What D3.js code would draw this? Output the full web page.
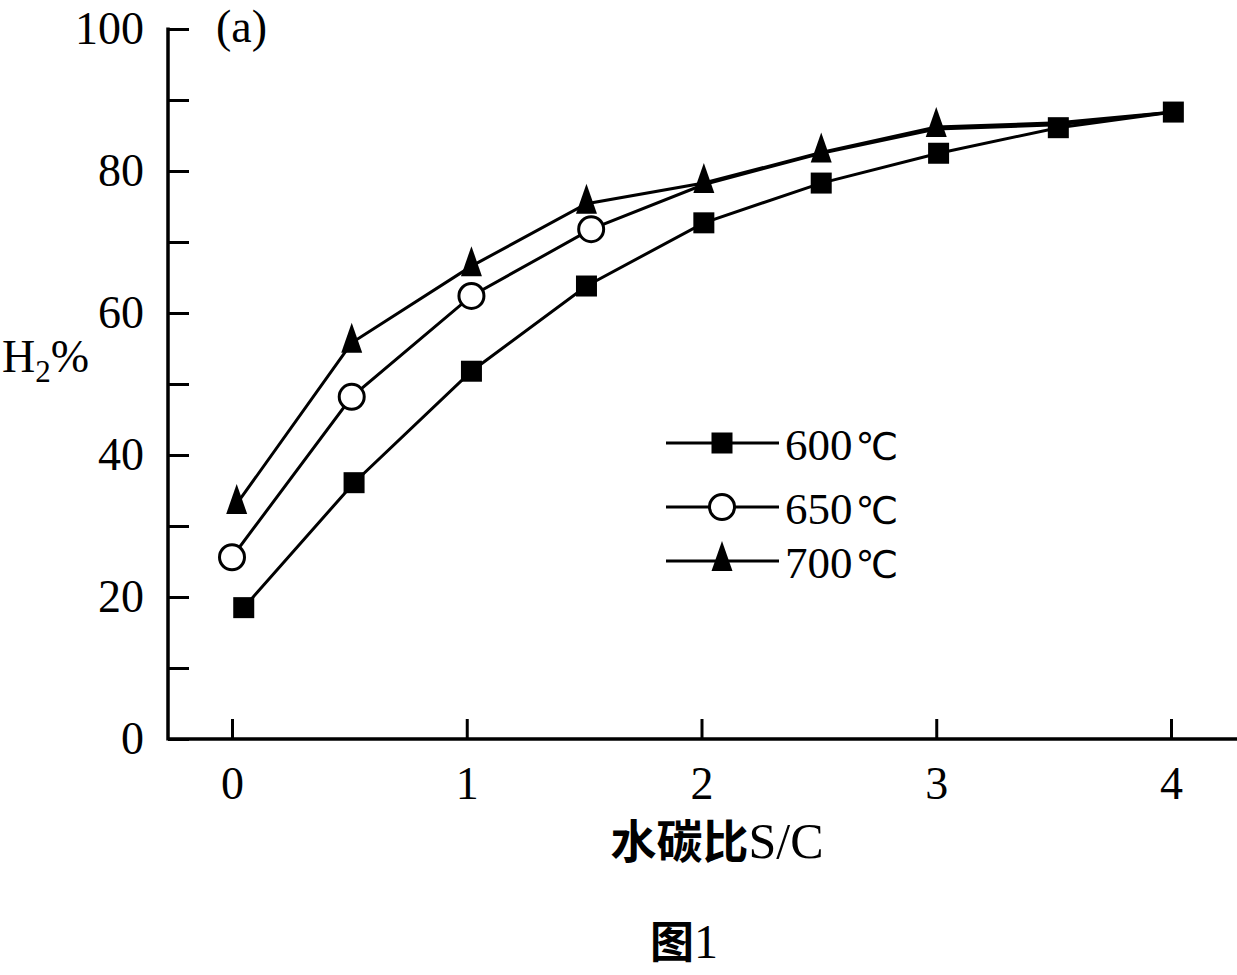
<!DOCTYPE html>
<html>
<head>
  <meta charset="utf-8">
  <title>H2% vs S/C</title>
  <style>
    body { margin: 0; background: #fff; }
    .num { font-family: "Liberation Serif", "Times New Roman", serif; }
    .cjk { font-family: "Noto Sans CJK SC", sans-serif; }
    .unit { font-family: "DejaVu Sans", sans-serif; }
  </style>
  <script src="https://d3js.org/d3.v7.min.js"></script>
</head>
<body>
  <div id="chart"></div>
  <script>
    // S/C ratios and H2%
    const sc600 = [0.05, 0.52, 1.02, 1.51, 2.01, 2.51, 3.01, 3.52, 4.01];
    const h600  = [18.5, 36.1, 51.8, 63.8, 72.7, 78.3, 82.5, 86.1, 88.3];
    const sc650 = [0, 0.51, 1.02, 1.53, 2.01, 2.51, 3.0, 3.52, 4.01];
    const h650  = [25.6, 48.2, 62.4, 71.8, 78.1, 82.5, 85.9, 86.5, 88.3];
    const sc700 = [0.02, 0.51, 1.02, 1.51, 2.01, 2.51, 3.0, 3.52, 4.01];
    const h700  = [33.1, 55.8, 66.6, 75.4, 78.3, 82.6, 86.2, 86.8, 88.3];

    const temps = ["600", "650", "700"];
    const symbols = ["square", "circle", "triangle"];
    const markedCount = [9, 4, 7]; // points that carry a visible marker

    const xTicks = [0, 1, 2, 3, 4];
    const yTicks = [0, 20, 40, 60, 80, 100];
    const yMinorTicks = [10, 30, 50, 70, 90];

    const W = 1237, H = 975;
    const svg = d3.select("#chart").append("svg")
      .attr("width", W)
      .attr("height", H);

    const x = d3.scaleLinear().domain([0, 4]).range([232, 1171]);
    const y = d3.scaleLinear().domain([0, 100]).range([739, 29]);
    const spineX = 168;

    const series = [
      { xs: sc600, ys: h600 },
      { xs: sc650, ys: h650 },
      { xs: sc700, ys: h700 }
    ].map((s, i) => ({
      temp: temps[i],
      symbol: symbols[i],
      points: s.xs.map((v, j) => ({ sc: v, h: s.ys[j], marked: j < markedCount[i] }))
    }));

    // axes (ticks point inward)
    const yAxis = svg.append("g")
      .attr("transform", `translate(${spineX},0)`)
      .call(d3.axisLeft(y).tickValues(yTicks).tickSize(-21).tickSizeOuter(0).tickPadding(24));
    const yMinor = svg.append("g")
      .attr("transform", `translate(${spineX},0)`)
      .call(d3.axisLeft(y).tickValues(yMinorTicks).tickSize(-21).tickSizeOuter(0).tickFormat(""));

    const xAxis = svg.append("g")
      .attr("transform", `translate(0,${y(0)})`)
      .call(d3.axisBottom(x).tickValues(xTicks).tickSize(-20).tickSizeOuter(0)
        .tickPadding(27).tickFormat(d3.format("d")));

    [yAxis, yMinor, xAxis].forEach(a => {
      a.select(".domain").remove();
      a.selectAll("line").attr("stroke", "#000").attr("stroke-width", 3);
      a.selectAll("text")
        .attr("class", "num")
        .style("font-size", "46px")
        .attr("fill", "#000");
    });

    svg.append("line")
      .attr("x1", spineX).attr("x2", spineX)
      .attr("y1", y(100) - 1.5).attr("y2", y(0) + 1.5)
      .attr("stroke", "#000").attr("stroke-width", 3.5);
    svg.append("line")
      .attr("x1", spineX).attr("x2", W)
      .attr("y1", y(0)).attr("y2", y(0))
      .attr("stroke", "#000").attr("stroke-width", 3.5);

    // markers
    const tri = "M0,-20L10.5,10L-10.5,10Z";
    function drawMarker(g, type, cx, cy) {
      if (type === "square") {
        g.append("rect")
          .attr("x", cx - 10.5).attr("y", cy - 10.5)
          .attr("width", 21).attr("height", 21)
          .attr("fill", "#000");
      } else if (type === "circle") {
        g.append("circle")
          .attr("cx", cx).attr("cy", cy).attr("r", 12.5)
          .attr("fill", "#fff").attr("stroke", "#000").attr("stroke-width", 3);
      } else {
        g.append("path")
          .attr("d", tri)
          .attr("transform", `translate(${cx},${cy})`)
          .attr("fill", "#000");
      }
    }

    const line = d3.line().x(d => x(d.sc)).y(d => y(d.h));
    const plot = svg.append("g");
    series.forEach(s => {
      plot.append("path")
        .datum(s.points)
        .attr("fill", "none")
        .attr("stroke", "#000")
        .attr("stroke-width", 3)
        .attr("d", line);
    });
    series.slice().reverse().forEach(s => {
      s.points.filter(p => p.marked).forEach(p => drawMarker(plot, s.symbol, x(p.sc), y(p.h)));
    });

    // legend
    const legendRows = [443, 507, 561];
    const legend = svg.append("g");
    series.forEach((s, i) => {
      const ly = legendRows[i];
      legend.append("line")
        .attr("x1", 666).attr("x2", 779)
        .attr("y1", ly).attr("y2", ly)
        .attr("stroke", "#000").attr("stroke-width", 3);
      drawMarker(legend, s.symbol, 722, ly);
      const t = legend.append("text")
        .attr("x", 785).attr("y", ly + 17);
      t.append("tspan").attr("class", "num").style("font-size", "45px").text(s.temp);
      t.append("tspan").attr("class", "unit").attr("dx", 3).style("font-size", "38px").text("℃");
    });

    // labels
    svg.append("text")
      .attr("class", "num")
      .attr("x", 216).attr("y", 42)
      .style("font-size", "46px")
      .text("(a)");

    const yl = svg.append("text")
      .attr("class", "num")
      .attr("x", 2).attr("y", 372)
      .style("font-size", "46px");
    yl.append("tspan").text("H");
    yl.append("tspan").attr("dy", 10).style("font-size", "31px").text("2");
    yl.append("tspan").attr("dy", -10).text("%");

    const xl = svg.append("text")
      .attr("x", 717).attr("y", 858)
      .attr("text-anchor", "middle");
    xl.append("tspan").attr("class", "cjk").style("font-size", "46px").style("font-weight", "bold").text("水碳比");
    xl.append("tspan").attr("class", "num").style("font-size", "50px").text("S/C");

    const cap = svg.append("text")
      .attr("x", 684).attr("y", 958)
      .attr("text-anchor", "middle");
    cap.append("tspan").attr("class", "cjk").style("font-size", "44px").style("font-weight", "bold").text("图");
    cap.append("tspan").attr("class", "num").style("font-size", "48px").text("1");
  </script>
</body>
</html>
